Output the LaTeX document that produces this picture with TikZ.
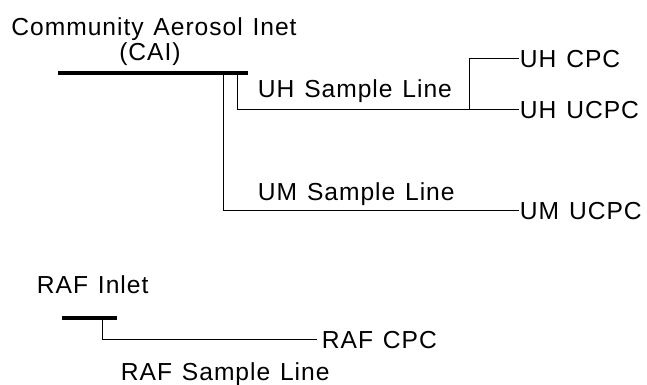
\documentclass[tikz,border=0pt]{standalone}
\usepackage{fontspec}
\setmainfont{Liberation Sans}[LetterSpace=4,WordSpace=1.25]
\usetikzlibrary{positioning}

\begin{document}
\begin{tikzpicture}[x=0.025cm,y=-0.025cm]
\tikzstyle lbl=[font=\fontsize{17.5}{20}\selectfont, inner sep=0.5pt];
\tikzstyle pipe=[line width=0.7pt];
\tikzstyle inlet=[line width=3pt];
\useasboundingbox (0,0) rectangle (647,384);
% community aerosol inlet
\node[lbl, anchor=base] (cai) at (154,35) {Community Aerosol Inet};
\node[lbl, anchor=base] (caiabbr) at (150,60) {(CAI)};
\coordinate (caiL) at (58,73);
\coordinate (caiR) at (248,73);
\draw[inlet] (caiL) -- (caiR);
\coordinate (umtap) at (223,73);
\coordinate (uhtap) at (237,73);
% instruments
\node[lbl, anchor=base west] (uhcpc) at (519,67) {UH CPC};
\node[lbl, anchor=base west] (uhucpc) at (519,118) {UH UCPC};
\node[lbl, anchor=base west] (umucpc) at (519,219) {UM UCPC};
\node[lbl, anchor=base west] (uhsl) at (257,97) {UH Sample Line};
\node[lbl, anchor=base west] (umsl) at (257,200) {UM Sample Line};
% sample lines
\draw[pipe] (uhtap) |- (uhucpc.west);
\path (uhucpc.west) ++(-50,0) coordinate (split);
\draw[pipe] (split) |- (uhcpc.west);
\draw[pipe] (umtap) |- (umucpc.west);
% RAF inlet
\node[lbl, anchor=base west] (raf) at (36,293) {RAF Inlet};
\coordinate (rafL) at (62,318);
\coordinate (rafR) at (117,318);
\draw[inlet] (rafL) -- (rafR);
\coordinate (raftap) at (102,318);
\node[lbl, anchor=base west] (rafcpc) at (321,348) {RAF CPC};
\node[lbl, anchor=base west] (rafsl) at (120,380) {RAF Sample Line};
\draw[pipe] (raftap) |- ([xshift=-3pt]rafcpc.west);
\end{tikzpicture}
\end{document}
